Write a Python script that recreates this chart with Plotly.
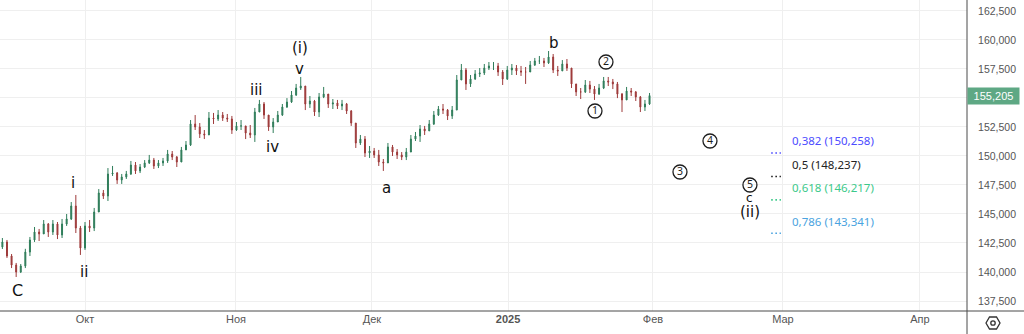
import pandas as pd
import plotly.graph_objects as go

# ---------------- data ----------------
dates = pd.date_range("2024-09-13", periods=142, freq="D")
first_open = 142160
closes = [
    142586, 141380, 140600, 140000, 140520, 141720, 142760, 143450, 143280, 144140,
    143450, 144140, 143190, 144140, 144570, 145690, 143790, 142070, 143970, 143790,
    145170, 146810, 146550, 148450, 148530, 147930, 148190, 148450, 149220, 148710,
    149050, 149400, 149650, 149140, 149400, 149570, 150170, 149910, 149480, 150520,
    150950, 152760, 152500, 151900, 151810, 153270, 153190, 153530, 153270, 153190,
    152240, 152590, 152590, 151980, 151810, 153790, 154480, 153530, 152500, 152930,
    153530, 154220, 154650, 155260, 155860, 156030, 154480, 154740, 153790, 155090,
    155340, 154480, 154570, 154310, 154480, 153880, 152840, 151120, 151460, 150260,
    150430, 150090, 149480, 149400, 150780, 150340, 150090, 149910, 150340, 151460,
    151720, 152330, 152160, 152760, 153530, 154050, 153960, 153450, 153960, 156550,
    157410, 156210, 156640, 157070, 157150, 157580, 157760, 157760, 157240, 156640,
    157410, 157580, 157330, 157240, 157240, 157840, 158190, 158190, 158020, 158530,
    157410, 157330, 157930, 157580, 156210, 155520, 155520, 156120, 155770, 155340,
    155860, 156470, 156380, 156210, 155340, 154830, 155600, 155520, 155090, 154220,
    154480, 155205,
]
highs = [
    142930, 142760, 141550, 140780, 140690, 142000, 143020, 143880, 143710, 144480,
    144220, 144480, 144310, 144570, 145000, 146030, 146640, 143970, 144310, 144480,
    145520, 147150, 147070, 148960, 149140, 148620, 148450, 148710, 149570, 149480,
    149310, 149650, 150090, 149830, 149650, 149830, 150520, 150430, 150000, 150780,
    151290, 153100, 153530, 152840, 152240, 153790, 153710, 153960, 153790, 153620,
    153450, 152930, 153100, 152410, 152670, 154140, 154830, 154650, 153360, 153270,
    153880, 154480, 154990, 155600, 156210, 156810, 156030, 155170, 154830, 155430,
    155950, 155170, 154910, 154830, 154830, 154570, 153960, 152840, 151810, 151720,
    150860, 150690, 150520, 149740, 151120, 150950, 150600, 150340, 150690, 151810,
    152070, 152670, 152590, 153100, 153880, 154310, 154480, 154050, 154310, 156980,
    157930, 157580, 156980, 157410, 157580, 157930, 158100, 158100, 158020, 157410,
    157760, 157930, 157840, 157760, 157670, 158190, 158450, 158620, 158450, 159050,
    158790, 157760, 158270, 158360, 157580, 156210, 155860, 156550, 156470, 156030,
    156210, 156810, 156810, 156640, 156380, 155430, 155950, 155860, 155600, 155170,
    154830, 155430,
]
lows = [
    141980, 141210, 140340, 139570, 139910, 140340, 141380, 142590, 142670, 143450,
    143020, 143190, 142840, 142930, 143970, 144480, 143360, 141470, 141900, 143450,
    143530, 146210, 146290, 146120, 148280, 147590, 147590, 148020, 148360, 148450,
    148530, 148960, 149310, 148880, 148960, 149140, 149400, 149650, 149050, 149830,
    150520, 150860, 152240, 151550, 151460, 151810, 152760, 153020, 153020, 152930,
    151900, 152160, 152240, 151460, 151550, 151210, 153790, 153190, 152160, 151980,
    153020, 153450, 154140, 154570, 155170, 155690, 153960, 154140, 153450, 153360,
    154990, 154140, 154050, 154050, 153960, 153620, 152590, 150690, 150950, 149910,
    149830, 149830, 149140, 148710, 149480, 150000, 149740, 149650, 149650, 150430,
    151290, 151210, 151810, 152160, 152670, 153450, 153620, 153100, 153190, 153960,
    156550, 155690, 155950, 156550, 156810, 156980, 157410, 157410, 156900, 156120,
    156550, 156980, 156980, 156900, 156210, 157330, 157760, 157930, 157670, 157930,
    157150, 156900, 157330, 157330, 155860, 155170, 154910, 155430, 155430, 154830,
    155260, 155770, 156030, 155770, 154990, 153790, 155090, 155170, 154740, 153790,
    153880, 154400,
]
opens = [first_open] + closes[:-1]
last_price = 155205

# wave labels: text, date, price, font size
wave_text = ["C", "i", "ii", "iii", "iv", "v", "(i)", "a", "b", "c", "(ii)"]
wave_date = ["2024-09-16 04:30", "2024-09-28 09:20", "2024-09-30 18:45", "2024-11-07 11:20",
             "2024-11-10 23:00", "2024-11-16 20:10", "2024-11-16 20:10", "2024-12-05 14:00",
             "2025-01-11 04:20", "2025-02-22 21:00", "2025-02-22 21:00"]
wave_price = [138448, 147672, 140000, 155688, 150775, 157498, 159310, 147241, 159740, 146380, 145180]
wave_size = [16, 15, 15, 15, 15, 15, 15, 15, 15, 12, 15]

# circled sub-wave labels
circ_text = ["1", "2", "3", "4", "5"]
circ_date = ["2025-01-20 02:40", "2025-01-22 12:10", "2025-02-07 15:10", "2025-02-14 04:00", "2025-02-22 21:00"]
circ_price = [153878, 158102, 148620, 151292, 147500]

# fibonacci levels
fib_ratio = ["0,382", "0,5", "0,618", "0,786"]
fib_price = [150258, 148237, 146217, 143341]
fib_label = ["150,258", "148,237", "146,217", "143,341"]
fib_color = ["#4c4cff", "#222222", "#3cc98a", "#4aa3e0"]
fib_start = "2025-02-27 12:00"
fib_end = "2025-03-01 15:00"
fib_text_x = "2025-03-03 14:00"

# axis ticks
x_tickvals = ["2024-10-01 00:00", "2024-11-02 21:30", "2024-12-02 12:40", "2025-01-01 04:00",
              "2025-02-01 18:00", "2025-03-02 01:40", "2025-03-31 22:00"]
x_ticktext = ["Окт", "Ноя", "Дек", "<b>2025</b>", "Фев", "Мар", "Апр"]
y_tickvals = [137500, 140000, 142500, 145000, 147500, 150000, 152500, 155000, 157500, 160000, 162500]
# the 155,000 label sits under the last-price badge in the reference
y_ticktext = ["137,500", "140,000", "142,500", "145,000", "147,500", "150,000", "152,500", "",
              "157,500", "160,000", "162,500"]

# ---------------- figure ----------------
fig = go.Figure()
fig.add_trace(go.Candlestick(
    x=dates, open=opens, high=highs, low=lows, close=closes,
    increasing=dict(line=dict(color="#2f7d5a", width=1), fillcolor="#2f7d5a"),
    decreasing=dict(line=dict(color="#9e3a3a", width=1), fillcolor="#9e3a3a"),
    whiskerwidth=0, showlegend=False, hoverinfo="skip",
))

for fp, fc in zip(fib_price, fib_color):
    fig.add_trace(go.Scatter(
        x=[fib_start, fib_end], y=[fp, fp], mode="lines",
        line=dict(color=fc, width=1.6, dash="1.6px,2.6px"),
        showlegend=False, hoverinfo="skip",
    ))

fig.add_trace(go.Scatter(
    x=circ_date, y=circ_price, mode="markers+text", text=circ_text,
    textposition="middle center",
    textfont=dict(family="Noto Sans", size=10.5, color="#1e1e1e"),
    marker=dict(symbol="circle-open", size=14, color="#1e1e1e", line=dict(width=1.3)),
    showlegend=False, hoverinfo="skip", cliponaxis=False,
))

annotations = []
for t, d, p, s in zip(wave_text, wave_date, wave_price, wave_size):
    annotations.append(dict(x=d, y=p, xref="x", yref="y", text=t, showarrow=False,
                            font=dict(family="DejaVu Sans", size=s, color="#111111")))

for r, p, lbl, c in zip(fib_ratio, fib_price, fib_label, fib_color):
    annotations.append(dict(x=fib_text_x, y=p, xref="x", yref="y", text=f"{r} ({lbl})",
                            showarrow=False, xanchor="left", yshift=12,
                            font=dict(family="Noto Sans", size=11.5, color=c)))

annotations.append(dict(x=1, y=last_price, xref="paper", yref="y", text=f"{last_price:,}",
                        showarrow=False, xanchor="left", bgcolor="#5ea884", width=50,
                        height=15, borderpad=0.5, align="center",
                        font=dict(family="Liberation Sans", size=11, color="white")))

W, H = 967.0, 311.0
def px(x):
    return x / W
def py(y):
    return (H - y) / H

hexpath = "M {} {} L {} {} L {} {} L {} {} L {} {} L {} {} Z".format(
    px(986), py(323), px(989.5), py(317), px(996.5), py(317),
    px(1000), py(323), px(996.5), py(329), px(989.5), py(329))

shapes = [
    dict(type="line", xref="paper", yref="paper", x0=0, x1=px(1024), y0=0, y1=0,
         line=dict(color="#4a4a4a", width=1)),
    dict(type="line", xref="paper", yref="paper", x0=1, x1=1, y0=py(334), y1=1,
         line=dict(color="#4a4a4a", width=1)),
    dict(type="path", xref="paper", yref="paper", path=hexpath,
         line=dict(color="#333333", width=1.3)),
    dict(type="circle", xref="paper", yref="paper", x0=px(990.8), x1=px(995.2),
         y0=py(325.2), y1=py(320.8), line=dict(color="#333333", width=1.3)),
]

fig.update_layout(
    width=1024, height=334,
    margin=dict(l=0, r=57, t=0, b=23),
    paper_bgcolor="white", plot_bgcolor="white",
    showlegend=False,
    boxgap=0.7,
    annotations=annotations,
    shapes=shapes,
    xaxis=dict(
        type="date", range=["2024-09-12 11:30", "2025-04-11 04:00"],
        tickvals=x_tickvals, ticktext=x_ticktext,
        showgrid=True, gridcolor="#efefef", gridwidth=1,
        showline=False, zeroline=False, ticks="",
        tickfont=dict(family="Liberation Sans", size=11, color="#555555"),
        rangeslider=dict(visible=False), fixedrange=True,
    ),
    yaxis=dict(
        side="right", range=[136638, 163446],
        tickvals=y_tickvals, ticktext=y_ticktext,
        showgrid=True, gridcolor="#efefef", gridwidth=1,
        showline=False, zeroline=False,
        ticks="outside", ticklen=8, tickcolor="rgba(0,0,0,0)",
        tickfont=dict(family="Liberation Sans", size=10.5, color="#555555"),
        fixedrange=True,
    ),
)

fig.write_html("out.html")
